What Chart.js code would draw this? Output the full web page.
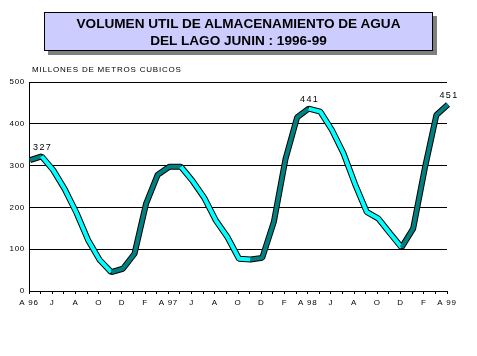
<!DOCTYPE html>
<html>
<head>
<meta charset="utf-8">
<script src="https://cdn.jsdelivr.net/npm/chart.js@4/dist/chart.umd.min.js"></script>
<style>
  html, body { margin: 0; padding: 0; background: #fff; }
  #wrap { position: relative; width: 477px; height: 356px; overflow: hidden; }
  #c { position: absolute; left: 0; top: 0; }
  #title {
    position: absolute; left: 44px; top: 12px; width: 389px; height: 39px;
    box-sizing: border-box; background: #CCCCFF; border: 1px solid #000;
    box-shadow: 4px 4px 0 #7f7f7f;
    font: bold 13.6px "Liberation Sans", Arial, sans-serif; color: #000;
    text-align: center; line-height: 16.7px; padding-top: 3px; white-space: nowrap;
  }
  #ylab {
    position: absolute; left: 32px; top: 66px;
    font: 8px "Liberation Sans", Arial, sans-serif; letter-spacing: 0.8px;
    line-height: 8px; color: #000; white-space: nowrap;
  }
</style>
</head>
<body>
<div id="wrap">
  <canvas id="c" width="477" height="356"></canvas>
  <div id="title">VOLUMEN UTIL DE ALMACENAMIENTO DE AGUA<br>DEL LAGO JUNIN : 1996-99</div>
  <div id="ylab">MILLONES DE METROS CUBICOS</div>
</div>
<script>
// Monthly points, April 1996 .. April 1999
const months = ['A 96','M','J','J','A','S','O','N','D','E','F','M',
                'A 97','M','J','J','A','S','O','N','D','E','F','M',
                'A 98','M','J','J','A','S','O','N','D','E','F','M',
                'A 99'];
// Only every second month is labelled on the axis
const shownLabels = ['A 96','J','A','O','D','F','A 97','J','A','O','D','F','A 98','J','A','O','D','F','A 99'];
const volume = [318, 327, 294, 248, 192, 127, 79, 50, 58, 94, 214, 283,
                302, 302, 268, 228, 174, 134, 82, 80, 84, 170, 320, 420,
                441, 434, 390, 334, 260, 194, 178, 143, 109, 154, 298, 426,
                451];
const labelledPoints = [1, 24, 36];
const yTicks = [0, 100, 200, 300, 400, 500];

const FONT = '"Liberation Sans", Arial, sans-serif';

const spacingPlugin = {
  id: 'spacing',
  beforeLayout(chart) { chart.ctx.letterSpacing = '0.7px'; },
  beforeDraw(chart) { chart.ctx.letterSpacing = '0.7px'; }
};

// emulate the ribbon depth: the ribbon hangs below the data line
const ribbonDepth = {
  id: 'ribbonDepth',
  beforeDatasetsDraw(chart) { chart.ctx.save(); chart.ctx.translate(1, 2); },
  afterDatasetsDraw(chart) { chart.ctx.restore(); }
};

const valueLabels = {
  id: 'valueLabels',
  afterDatasetsDraw(chart) {
    const meta = chart.getDatasetMeta(0);
    const ctx = chart.ctx;
    ctx.save();
    ctx.letterSpacing = '1.4px';
    ctx.font = '9px ' + FONT;
    ctx.fillStyle = '#000';
    ctx.textAlign = 'center';
    ctx.textBaseline = 'middle';
    labelledPoints.forEach(i => {
      const p = meta.data[i];
      ctx.fillText(String(volume[i]), p.x + 2, p.y - 7);
    });
    ctx.restore();
  }
};

new Chart(document.getElementById('c'), {
  type: 'line',
  data: {
    labels: months,
    datasets: [
      {
        data: volume,
        borderWidth: 4,
        borderColor: '#008080',
        segment: {
          borderColor: c => c.p0.parsed.y > c.p1.parsed.y ? '#00FFFF' : '#008080'
        },
        pointRadius: 0,
        tension: 0,
        borderJoinStyle: 'bevel',
        borderCapStyle: 'butt',
        order: 0
      },
      {
        data: volume,
        borderWidth: 6,
        borderColor: '#000',
        pointRadius: 0,
        tension: 0,
        borderJoinStyle: 'bevel',
        borderCapStyle: 'butt',
        order: 1
      }
    ]
  },
  options: {
    responsive: false,
    animation: false,
    events: [],
    layout: { padding: { left: 0, top: 82, right: 30, bottom: 0 } },
    plugins: { legend: { display: false }, tooltip: { enabled: false }, title: { display: false } },
    scales: {
      x: {
        type: 'category',
        offset: false,
        afterFit(s) { s.height = 65; },
        grid: { drawOnChartArea: false, drawTicks: true, tickLength: 3, color: '#000', lineWidth: 1 },
        border: { color: '#000', width: 1 },
        ticks: {
          autoSkip: false, maxRotation: 0, minRotation: 0, padding: 4,
          color: '#000', font: { family: FONT, size: 8 },
          callback: (v, i) => (i % 2 === 0 ? shownLabels[i / 2] : '')
        }
      },
      y: {
        min: 0, max: 500,
        afterFit(s) { s.width = 29; },
        afterBuildTicks(s) { s.ticks = yTicks.map(v => ({ value: v })); },
        grid: { drawTicks: false, color: '#000', lineWidth: 1 },
        border: { color: '#000', width: 1 },
        ticks: { padding: 4, color: '#000', font: { family: FONT, size: 8 } }
      }
    }
  },
  plugins: [spacingPlugin, ribbonDepth, valueLabels]
});
</script>
</body>
</html>
